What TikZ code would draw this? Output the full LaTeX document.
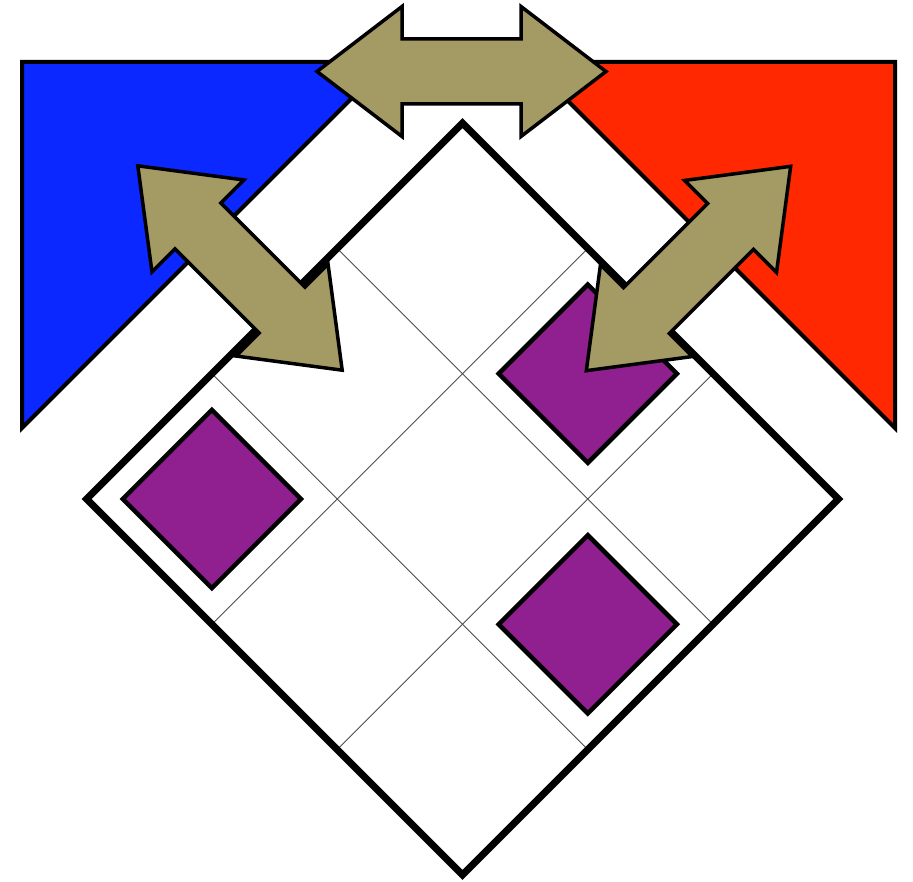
\documentclass[tikz,border=0pt]{standalone}
\usepackage{tikz}

\definecolor{leftblue}{RGB}{10,40,255}
\definecolor{rightred}{RGB}{255,40,0}
\definecolor{swapkhaki}{RGB}{163,154,100}
\definecolor{piecepurple}{RGB}{144,32,144}

\begin{document}
\begin{tikzpicture}[
        x=1pt, y=-1pt,
        side/.style={draw=black, line width=4pt, line join=miter},
        boardfill/.style={fill=white},
        boardedge/.style={draw=black, line width=7pt},
        cellline/.style={draw=black!70, line width=0.8pt},
        piece/.style={draw=black, fill=piecepurple, line width=4.5pt},
        swap/.style={draw=black, fill=swapkhaki, line width=3.5pt},
        dblarrow/.pic={
            \path[swap] (-144.5,0) -- (-59.5,-65) -- (-59.5,-32.5) -- (59.5,-32.5) -- (59.5,-65)
                -- (144.5,0) -- (59.5,65) -- (59.5,32.5) -- (-59.5,32.5) -- (-59.5,65) -- cycle;
        }
    ]
    \useasboundingbox (0,0) rectangle (913,882);

    % Sides
    \path[side, fill=leftblue] (22,62) -- (388,62) -- (22,428) -- cycle;
    \path[side, fill=rightred] (895,62) -- (529,62) -- (895,428) -- cycle;

    % Board
    \begin{scope}[shift={(462.5,499)}, x={(0.7071pt,-0.7071pt)}, y={(0.7071pt,0.7071pt)}]
        \path[boardfill] (-265.8,-265.8) -- (265.8,-265.8) -- (265.8,265.8) -- (-265.8,265.8) -- cycle;
        \foreach \g in {-88.6,88.6} {
            \path[cellline] (\g,-265.8) -- (\g,265.8);
            \path[cellline] (-265.8,\g) -- (265.8,\g);
        }
        \path[boardedge] (-265.8,-265.8) -- (265.8,-265.8) -- (265.8,265.8) -- (-265.8,265.8) -- cycle;
        \foreach \p/\q in {-1/-1,0/1,1/0}
            \path[piece] ({\p*177.2-63},{\q*177.2-63}) -- ++(126,0) -- ++(0,126) -- ++(-126,0) -- cycle;
    \end{scope}

    % Swaps
    \pic (topswap) at (461.5,71.5) {dblarrow};
    \pic[rotate=-45] (leftswap) at (240,268) {dblarrow};
    \pic[rotate=45] (rightswap) at (688.5,268.5) {dblarrow};

\end{tikzpicture}
\end{document}
